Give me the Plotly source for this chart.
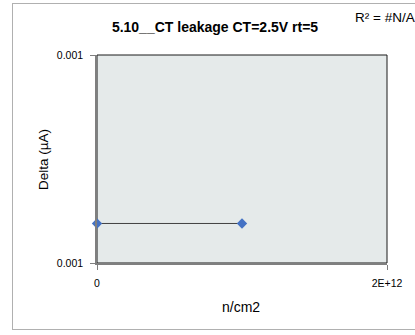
import plotly.graph_objects as go

# Data
x_vals = [0, 1e12]
y_vals = [0.000969, 0.000969]
x_ticks = [0, 2e12]
x_tick_text = ["0", "2E+12"]
y_ticks = [0.00095, 0.00105]
y_tick_text = ["0.001", "0.001"]

title_text = "5.10__CT leakage CT=2.5V rt=5"
x_title = "n/cm2"
y_title = "Delta (µA)"
r2_text = "R² = #N/A"

W, H = 415, 335
L, R, T, B = 97, 28, 55, 72
pw, ph = W - L - R, H - T - B

def px_x(p):
    return (p - L) / pw

def px_y(p):
    return (H - B - p) / ph

font = "Liberation Sans, Arial, sans-serif"

fig = go.Figure()
fig.add_trace(go.Scatter(
    x=x_vals, y=y_vals, mode="lines+markers",
    line=dict(color="#404040", width=1),
    marker=dict(symbol="diamond", size=8, color="#4472C4"),
    showlegend=False, cliponaxis=False,
))

fig.update_layout(
    width=W, height=H,
    margin=dict(l=L, r=R, t=T, b=B),
    paper_bgcolor="white",
    plot_bgcolor="#e5eaea",
    font=dict(family=font, color="#000000", size=10.5),
    title=dict(text="<b>" + title_text + "</b>", x=215 / W, xanchor="center",
               xref="container", y=1 - 27 / H, yanchor="middle", yref="container",
               font=dict(size=14, family=font)),
    xaxis=dict(range=[0, 2e12], tickvals=x_ticks, ticktext=x_tick_text,
               showgrid=False, zeroline=False, showline=True, linecolor="#7f7f7f",
               linewidth=1.5, ticks="outside", ticklen=5, tickcolor="#7f7f7f",
               ticklabelstandoff=5, tickfont=dict(size=10.5)),
    yaxis=dict(range=[0.00095, 0.00105], tickvals=y_ticks, ticktext=y_tick_text,
               showgrid=False, zeroline=False, showline=True, linecolor="#7f7f7f",
               linewidth=1.5, ticks="outside", ticklen=5, tickcolor="#7f7f7f",
               ticklabelstandoff=5, tickfont=dict(size=10.5)),
    shapes=[
        dict(type="rect", xref="paper", yref="paper", x0=0, x1=1, y0=0, y1=1,
             line=dict(color="#1a1a1a", width=1), layer="below"),
    ],
    annotations=[
        dict(text=" ", xref="paper", yref="paper", x=px_x(12), y=px_y(3),
             xanchor="left", yanchor="top", showarrow=False,
             width=420, height=325, borderpad=0, borderwidth=1,
             bordercolor="#b0b0b0"),
        dict(text=r2_text, xref="paper", yref="paper", x=px_x(353), y=px_y(17),
             xanchor="left", yanchor="middle", showarrow=False,
             font=dict(size=13.5, family=font)),
        dict(text=x_title, xref="paper", yref="paper", x=px_x(241), y=px_y(307),
             xanchor="center", yanchor="middle", showarrow=False,
             font=dict(size=14, family=font)),
        dict(text=y_title, xref="paper", yref="paper", x=px_x(43), y=px_y(160),
             xanchor="center", yanchor="middle", showarrow=False, textangle=-90,
             font=dict(size=13.5, family=font)),
    ],
)

fig.write_html("out.html", config={"displayModeBar": False},
               post_script="document.body.style.margin='0px';")
